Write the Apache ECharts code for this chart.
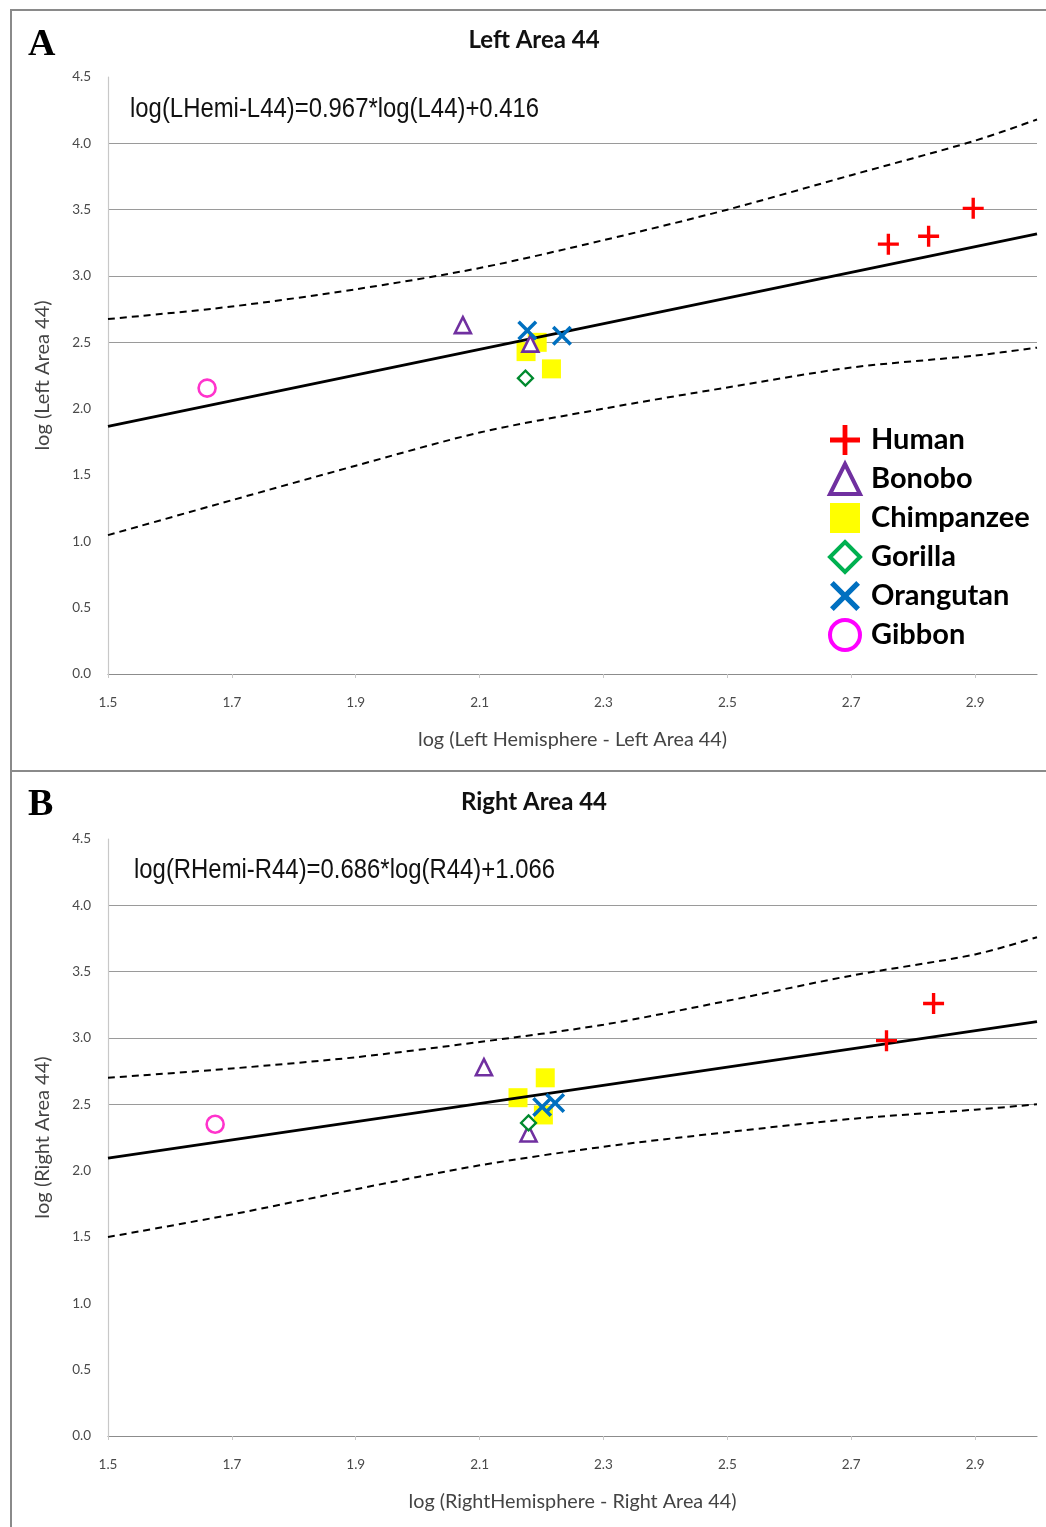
<!DOCTYPE html>
<html>
<head>
<meta charset="utf-8">
<script src="https://cdn.jsdelivr.net/npm/echarts@6/dist/echarts.min.js"></script>
<style>
html,body{margin:0;padding:0;background:#fff;}
#chart{width:1046px;height:1527px;}
</style>
</head>
<body>
<div id="chart"></div>
<script>
// ---------- DATA ----------
const species = ['Human', 'Bonobo', 'Chimpanzee', 'Gorilla', 'Orangutan', 'Gibbon'];

// Panel A : x = log(Left Hemisphere - Left Area 44), y = log(Left Area 44)
const humanA     = [[2.760, 3.24], [2.825, 3.30], [2.897, 3.51]];
const bonoboA    = [[2.073, 2.63], [2.182, 2.49]];
const chimpA     = [[2.175, 2.43], [2.193, 2.50], [2.216, 2.30]];
const gorillaA   = [[2.174, 2.23]];
const orangutanA = [[2.177, 2.59], [2.233, 2.55]];
const gibbonA    = [[1.660, 2.155]];
const fitA       = [[1.5, 1.866], [3.0, 3.317]];
const upperA     = [[1.5, 2.675], [1.7, 2.77], [1.9, 2.90], [2.1, 3.06], [2.3, 3.27], [2.5, 3.50], [2.7, 3.76], [2.9, 4.02], [3.0, 4.18]];
const lowerA     = [[1.5, 1.047], [1.7, 1.31], [1.9, 1.57], [2.1, 1.82], [2.3, 2.00], [2.5, 2.16], [2.7, 2.31], [2.9, 2.40], [3.0, 2.46]];

// Panel B : x = log(RightHemisphere - Right Area 44), y = log(Right Area 44)
const humanB     = [[2.757, 2.98], [2.833, 3.26]];
const bonoboB    = [[2.107, 2.78], [2.179, 2.28]];
const chimpB     = [[2.206, 2.70], [2.162, 2.55], [2.203, 2.42]];
const gorillaB   = [[2.179, 2.36]];
const orangutanB = [[2.201, 2.48], [2.222, 2.51]];
const gibbonB    = [[1.673, 2.35]];
const fitB       = [[1.5, 2.095], [3.0, 3.124]];
const upperB     = [[1.5, 2.70], [1.7, 2.77], [1.9, 2.855], [2.1, 2.97], [2.3, 3.10], [2.5, 3.28], [2.7, 3.47], [2.9, 3.63], [3.0, 3.76]];
const lowerB     = [[1.5, 1.50], [1.7, 1.67], [1.9, 1.86], [2.1, 2.04], [2.3, 2.18], [2.5, 2.29], [2.7, 2.39], [2.9, 2.46], [3.0, 2.50]];

const titles    = ['Left Area 44', 'Right Area 44'];
const equations = ['log(LHemi-L44)=0.967*log(L44)+0.416', 'log(RHemi-R44)=0.686*log(R44)+1.066'];
const xNames    = ['log (Left Hemisphere - Left Area 44)', 'log (RightHemisphere - Right Area 44)'];
const yNames    = ['log (Left Area 44)', 'log (Right Area 44)'];
const panelLetters = ['A', 'B'];

// ---------- STYLE ----------
const PLUS = 'path://M-1.6,-10L1.6,-10L1.6,-1.6L10,-1.6L10,1.6L1.6,1.6L1.6,10L-1.6,10L-1.6,1.6L-10,1.6L-10,-1.6L-1.6,-1.6Z';
const CROSS = 'path://M-7.5,-10L0,-2.5L7.5,-10L10,-7.5L2.5,0L10,7.5L7.5,10L0,2.5L-7.5,10L-10,7.5L-2.5,0L-10,-7.5Z';

const styles = {
  Human:      {symbol: PLUS,       size: 21, itemStyle: {color: '#ff0000', opacity: 1}, z: 5},
  Bonobo:     {symbol: 'triangle', size: 16, itemStyle: {color: '#ffffff', borderColor: '#7030a0', borderWidth: 2.6, opacity: 1}, z: 5},
  Chimpanzee: {symbol: 'rect',     size: 19, itemStyle: {color: '#ffff00', opacity: 1}, z: 2},
  Gorilla:    {symbol: 'diamond',  size: 15, itemStyle: {color: '#ffffff', borderColor: '#008a2e', borderWidth: 2.3, opacity: 1}, z: 5},
  Orangutan:  {symbol: CROSS,      size: 20, itemStyle: {color: '#0070c0', opacity: 1}, z: 5},
  Gibbon:     {symbol: 'circle',   size: 17, itemStyle: {color: '#ffffff', borderColor: '#ff33cc', borderWidth: 2.6, opacity: 1}, z: 5}
};
const legendColors = {Gorilla: '#00b050', Gibbon: '#ff00ff'};

const panelData = [
  {pts: [humanA, bonoboA, chimpA, gorillaA, orangutanA, gibbonA], fit: fitA, up: upperA, lo: lowerA},
  {pts: [humanB, bonoboB, chimpB, gorillaB, orangutanB, gibbonB], fit: fitB, up: upperB, lo: lowerB}
];

const gridTops = [77, 839];
const gridH = 597;
const gridL = 108, gridW = 929;

const chart = echarts.init(document.getElementById('chart'), null, {renderer: 'canvas'});

const grids = [], xAxes = [], yAxes = [], series = [];
const splitColors = [];
for (let i = 0; i <= 9; i++) splitColors.push(i >= 5 && i <= 8 ? '#9a9a9a' : 'rgba(0,0,0,0)');

panelData.forEach((p, k) => {
  grids.push({left: gridL, top: gridTops[k], width: gridW, height: gridH, containLabel: false});
  xAxes.push({
    gridIndex: k, type: 'value', min: 1.5, max: 3.0, interval: 0.2,
    name: xNames[k], nameLocation: 'middle', nameGap: 56,
    nameTextStyle: {fontFamily: 'Lato', fontSize: 19.8, color: '#444'},
    axisLine: {show: true, onZero: false, lineStyle: {color: '#8c8c8c', width: 1.2}},
    axisTick: {show: true, length: 4, lineStyle: {color: '#c8c8c8'}},
    axisLabel: {showMaxLabel: false, margin: 22, fontFamily: 'Lato', fontSize: 13.5, color: '#4a4a4a',
                formatter: v => v.toFixed(1)},
    splitLine: {show: false}
  });
  yAxes.push({
    gridIndex: k, type: 'value', min: 0, max: 4.5, interval: 0.5,
    name: yNames[k], nameLocation: 'middle', nameGap: 55, nameRotate: 90,
    nameTextStyle: {fontFamily: 'Lato', fontSize: 20, color: '#444'},
    axisLine: {show: true, onZero: false, lineStyle: {color: '#c8c8c8', width: 1.2}},
    axisTick: {show: false},
    axisLabel: {margin: 17, fontFamily: 'Lato', fontSize: 13.5, color: '#4a4a4a', formatter: v => v.toFixed(1)},
    splitLine: {show: true, lineStyle: {color: splitColors, width: 1.2}}
  });
  species.forEach((sp, j) => {
    const st = styles[sp];
    series.push({
      name: sp, type: 'scatter', xAxisIndex: k, yAxisIndex: k,
      symbol: st.symbol, symbolSize: st.size, itemStyle: st.itemStyle, z: st.z,
      emphasis: {disabled: true},
      data: p.pts[j]
    });
  });
  series.push({
    name: 'fit' + k, type: 'line', xAxisIndex: k, yAxisIndex: k, data: p.fit,
    symbol: 'none', z: 3, lineStyle: {color: '#000', width: 2.8}
  });
  [p.up, p.lo].forEach((d, m) => {
    series.push({
      name: 'band' + k + m, type: 'line', xAxisIndex: k, yAxisIndex: k, data: d,
      symbol: 'none', smooth: 0.3, z: 3, lineStyle: {color: '#000', width: 2, type: [7, 5]}
    });
  });
});

const graphics = [
  {type: 'line', shape: {x1: 10, y1: 10, x2: 1046, y2: 10}, style: {stroke: '#8a8a8a', lineWidth: 2}},
  {type: 'line', shape: {x1: 11, y1: 10, x2: 11, y2: 1527}, style: {stroke: '#8a8a8a', lineWidth: 2}},
  {type: 'line', shape: {x1: 10, y1: 771, x2: 1046, y2: 771}, style: {stroke: '#8a8a8a', lineWidth: 2}}
];
const letterY = [45, 805];
const titleY = [40, 802];
const eqPos = [[130, 110], [134, 871]];
[0, 1].forEach(k => {
  graphics.push({type: 'text', x: 28, y: letterY[k], style: {text: panelLetters[k], fontFamily: 'Liberation Serif',
    fontWeight: 'bold', fontSize: 38, fill: '#000', textVerticalAlign: 'middle'}});
  graphics.push({type: 'text', x: 534, y: titleY[k], style: {text: titles[k], fontFamily: 'Lato',
    fontWeight: 'bold', fontSize: 24, fill: '#111', textAlign: 'center', textVerticalAlign: 'middle'}});
  graphics.push({type: 'text', x: eqPos[k][0], y: eqPos[k][1], scaleX: 0.885, z: 10, style: {text: equations[k],
    fontFamily: '"Liberation Sans", sans-serif', fontSize: 27, fill: '#111',
    textVerticalAlign: 'middle'}});
});

const option = {
  backgroundColor: '#ffffff',
  animation: false,
  grid: grids, xAxis: xAxes, yAxis: yAxes,
  legend: {
    orient: 'vertical', left: 828, top: 425, padding: 0,
    itemWidth: 30, itemHeight: 30, itemGap: 7,
    selectedMode: false,
    textStyle: {fontFamily: 'Lato', fontWeight: 'bold', fontSize: 29, color: '#000', lineHeight: 30, padding: [0, 0, 0, 6]},
    data: species.map(sp => {
      const st = styles[sp];
      const it = Object.assign({}, st.itemStyle);
      if (it.borderWidth) { it.borderWidth = 4; if (legendColors[sp]) it.borderColor = legendColors[sp]; }
      return {name: sp, icon: st.symbol, itemStyle: it};
    })
  },
  graphic: graphics,
  series: series
};
chart.setOption(option);
</script>
</body>
</html>
